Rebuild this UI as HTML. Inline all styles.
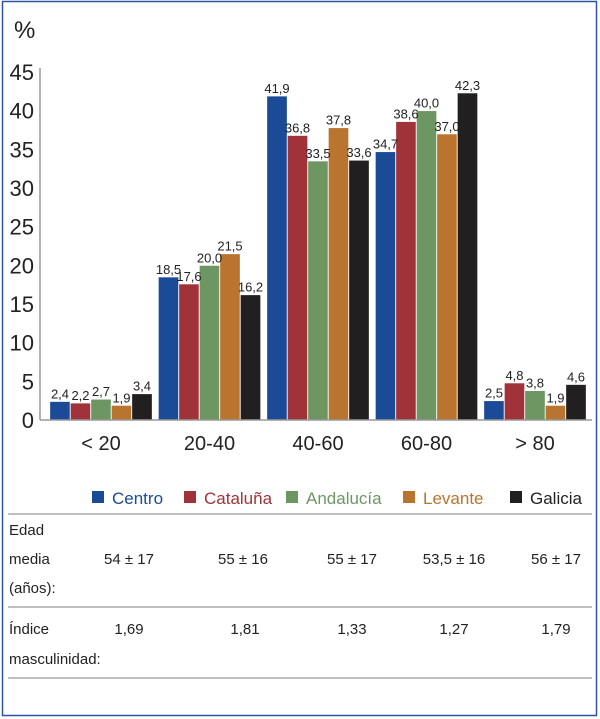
<!DOCTYPE html>
<html><head><meta charset="utf-8"><style>
body{margin:0;background:#fff;font-family:"Liberation Sans",sans-serif}
#wrap{position:relative;width:600px;height:719px;overflow:hidden}
</style></head><body>
<div id="wrap">
<svg id="svg" width="600" height="719" xmlns="http://www.w3.org/2000/svg">
<rect x="2.5" y="1.5" width="594" height="714" fill="none" stroke="#2a55a0" stroke-width="1.5"/>
<text x="14" y="38" font-size="24" fill="#222">%</text>
<g id="ticks"></g><g id="bars"></g><g id="labels"></g>
<line x1="40" y1="420" x2="592" y2="420" stroke="#999" stroke-width="1.5"/>
<line x1="40" y1="68" x2="40" y2="420" stroke="#999" stroke-width="1.5"/>
<g id="legend" font-size="17"></g>
<line x1="8" y1="514" x2="592" y2="514" stroke="#aaa" stroke-width="1.5"/>
<line x1="8" y1="607" x2="592" y2="607" stroke="#aaa" stroke-width="1.5"/>
<line x1="8" y1="678" x2="592" y2="678" stroke="#aaa" stroke-width="1.5"/>
<g font-size="15" fill="#222">
<text x="9" y="535">Edad</text>
<text x="9" y="564">media</text>
<text x="9" y="593">(años):</text>
<text x="9" y="634">Índice</text>
<text x="9" y="664">masculinidad:</text>
<g id="tvals" text-anchor="middle"></g>
</g>
</svg>
</div>
<script>
const categories=["< 20","20-40","40-60","60-80","> 80"];
const seriesNames=["Centro","Cataluña","Andalucía","Levante","Galicia"];
const centro=[2.4,18.5,41.9,34.7,2.5];
const cataluna=[2.2,17.6,36.8,38.6,4.8];
const andalucia=[2.7,20.0,33.5,40.0,3.8];
const levante=[1.9,21.5,37.8,37.0,1.9];
const galicia=[3.4,16.2,33.6,42.3,4.6];
const yTicks=[0,5,10,15,20,25,30,35,40,45];
const edadMedia=["54 ± 17","55  ± 16","55 ±  17","53,5 ± 16","56 ± 17"];
const indiceMasc=["1,69","1,81","1,33","1,27","1,79"];
const colors=["#1b4a96","#a0333a","#6e9663","#b97430","#221f20"];
const textColors=["#1b4a96","#a0333a","#6e9663","#b97430","#222"];
const series=[centro,cataluna,andalucia,levante,galicia];
const NS="http://www.w3.org/2000/svg";
function y(v){return 420-v*(348/45);}
function cx(i){return 101+i*108.5;}
const bw=20.5;
function mk(tag,attrs,parent,txt){const e=document.createElementNS(NS,tag);for(const k in attrs)e.setAttribute(k,attrs[k]);if(txt!=null)e.textContent=txt;document.getElementById(parent).appendChild(e);return e;}
yTicks.forEach(t=>{
 const e=mk("text",{x:34,y:y(t)+8,"text-anchor":"end","font-size":"22",fill:"#222"},"ticks",String(t));
 
 
});
categories.forEach((c,i)=>{
 const e=mk("text",{x:cx(i),y:450,"text-anchor":"middle","font-size":"20",fill:"#222"},"labels",c);
 
 
 series.forEach((s,j)=>{
  const x=cx(i)-2.5*bw+j*bw, v=s[i];
  const r=mk("rect",{x:x,y:y(v),width:bw,height:420-y(v),fill:colors[j],stroke:"#fff","stroke-width":"0.8"},"bars");
  
  
  const l=mk("text",{x:x+bw/2,y:y(v)-3,"text-anchor":"middle","font-size":"13",fill:"#222"},"labels",v.toFixed(1).replace('.',','));
  
  
 });
 const a=mk("text",{x:[129,243,352,454,556][i],y:564},"tvals",edadMedia[i]);
 
 
 const b=mk("text",{x:[129,245,352,454,556][i],y:634},"tvals",indiceMasc[i]);
 
 
});
const legX=[92,184,286,403,510];
seriesNames.forEach((n,j)=>{
 const r=mk("rect",{x:legX[j],y:491,width:12,height:12,fill:colors[j]},"legend");
 
 
 const t=mk("text",{x:legX[j]+20,y:504,fill:textColors[j]},"legend",n);
 
 
});
</script>
</body></html>
